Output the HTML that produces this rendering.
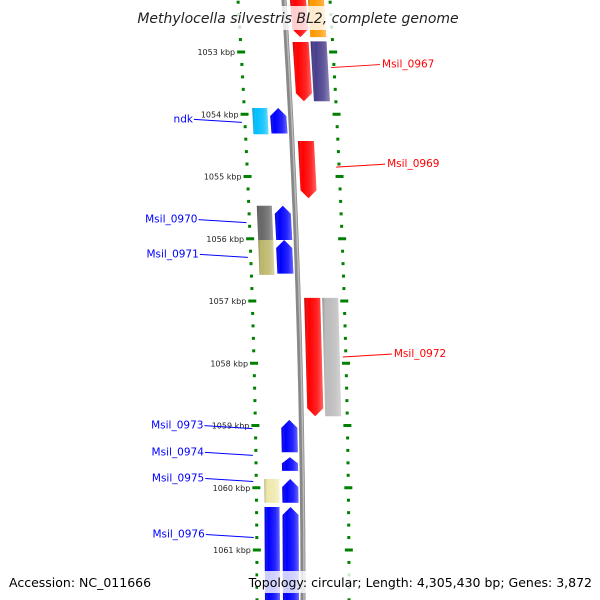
<!DOCTYPE html>
<html><head><meta charset="utf-8"><style>
body{margin:0;background:#fff}
svg{display:block;font-family:"DejaVu Sans","Liberation Sans",sans-serif}
</style></head><body>
<svg id="c" width="600" height="600" viewBox="0 0 600 600">
<defs>
<linearGradient id="sh" x1="0" x2="1" y1="0" y2="0">
<stop offset="0" stop-color="#000" stop-opacity="0.25"/>
<stop offset="0.25" stop-color="#fff" stop-opacity="0"/>
<stop offset="0.7" stop-color="#fff" stop-opacity="0.15"/>
<stop offset="1" stop-color="#fff" stop-opacity="0.4"/>
</linearGradient>
</defs>
<g id="ticks"></g>
<g id="backbone"></g>
<g id="genes"></g>
<g id="labels"></g>
<rect x="140" y="6" width="318" height="24" fill="#fff" opacity="0.8"/>
<text x="298" y="23" text-anchor="middle" font-size="14" font-style="italic" fill="#222">Methylocella silvestris BL2, complete genome</text>
<rect x="258" y="571" width="338" height="22" fill="#fff" opacity="0.8"/>
<text x="9" y="587" font-size="12.5" fill="#000">Accession: NC_011666</text>
<text x="592" y="587" text-anchor="end" font-size="12.5" fill="#000">Topology: circular; Length: 4,305,430 bp; Genes: 3,872</text>
</svg>
<script>
const majorTicks=[1053,1054,1055,1056,1057,1058,1059,1060,1061];
const tickLabels=["1053 kbp","1054 kbp","1055 kbp","1056 kbp","1057 kbp","1058 kbp","1059 kbp","1060 kbp","1061 kbp"];
const geneNames=["g-top-red","g-top-orange","g-red-0966","Msil_0967","ndk","g-blue-ndk","Msil_0969","Msil_0970","g-blue-0970","Msil_0971","g-blue-0971","g-red-0972","Msil_0972","Msil_0973","Msil_0974","Msil_0975","g-blue-0975","g-blue2-0976","Msil_0976"];
const geneStart=[1052.1,1052.1,1052.84,1052.83,1053.9,1053.9,1054.43,1055.47,1055.47,1056.02,1056.02,1056.95,1056.95,1058.91,1059.51,1059.86,1059.86,1060.31,1060.31];
const geneEnd=[1052.76,1052.76,1053.79,1053.79,1054.32,1054.31,1055.35,1056.02,1056.02,1056.58,1056.56,1058.85,1058.85,1059.43,1059.73,1060.24,1060.24,1061.9,1061.9];
const geneLane=[1,2,1,2,-2,-1,1,-2,-1,-2,-1,1,2,-1,-1,-2,-1,-2,-1];
const geneArrow=[1,0,1,0,0,-1,1,0,-1,0,-1,1,0,-1,-1,0,-1,0,-1];
const geneColor=["#ff0000","#ff9900","#ff0000","#483d8b","#00bfff","#0000ff","#ff0000","#666666","#0000ff","#bdb76b","#0000ff","#ff0000","#bbbbbb","#0000ff","#0000ff","#eee8aa","#0000ff","#0000ff","#0000ff"];
const labelGene=["Msil_0967","Msil_0969","Msil_0972","ndk","Msil_0970","Msil_0971","Msil_0973","Msil_0974","Msil_0975","Msil_0976"];
const labelKbp=[1053.25,1054.85,1057.9,1054.13,1055.74,1056.3,1059.05,1059.48,1059.9,1060.8];

const NS='http://www.w3.org/2000/svg';
function y(k){return 52+(k-1053)*62.25;}
function bx(yy){const t=(600-yy)/600;return 303-19*t*t;}
function mk(tag,attrs,parent){const e=document.createElementNS(NS,tag);for(const a in attrs)e.setAttribute(a,attrs[a]);parent.appendChild(e);return e;}
const T=document.getElementById('ticks'),B=document.getElementById('backbone'),G=document.getElementById('genes'),L=document.getElementById('labels');

// minor ticks
for(let k=1052;k<=1062.01;k+=0.2){
  const kk=Math.round(k*10)/10, yy=y(kk);
  if(yy<-5||yy>605)continue;
  const major=Math.abs(kk-Math.round(kk))<0.01;
  [-46,46].forEach(off=>{
    const x=bx(yy)+off;
    const r=mk('rect',{x:x-(major?4:1.5),y:yy-1.5,width:major?8:3,height:3,fill:'#008000'},T);
    
    
  });
}
majorTicks.forEach((k,i)=>{
  const yy=y(k);
  const t=mk('text',{x:bx(yy)-52,y:yy+3,'text-anchor':'end','font-size':'8',fill:'#222'},T);
  t.textContent=tickLabels[i];
  
  
});
// backbone
let d='';for(let yy=-5;yy<=605;yy+=10){d+=(yy<0?'M':'L')+bx(yy).toFixed(1)+','+yy;}
const bb=mk('path',{d:d,stroke:'#888',fill:'none','stroke-width':5},B);


const bb2=mk('path',{d:d,stroke:'#bbb',fill:'none','stroke-width':1.5,transform:'translate(1,0)'},B);



const laneOff={'-2':[-38,-23],'-1':[-20,-4],'1':[6,22],'2':[24,40]};
geneNames.forEach((n,i)=>{
  const y0=y(geneStart[i]),y1=y(geneEnd[i]);
  const o=laneOff[geneLane[i]];
  const a=bx(y0),b=bx(y1);
  const x0a=a+o[0],x1a=a+o[1],x0b=b+o[0],x1b=b+o[1];
  let pts;
  const h=Math.min(8,(y1-y0)*0.45);
  if(geneArrow[i]===1){
    pts=[[x0a,y0],[x1a,y0],[x1b,y1-h],[(x0b+x1b)/2,y1],[x0b,y1-h]];
  }else if(geneArrow[i]===-1){
    pts=[[(x0a+x1a)/2,y0],[x1a,y0+h],[x1b,y1],[x0b,y1],[x0a,y0+h]];
  }else{
    pts=[[x0a,y0],[x1a,y0],[x1b,y1],[x0b,y1]];
  }
  const p=pts.map(q=>q[0].toFixed(1)+','+q[1].toFixed(1)).join(' ');
  const g=mk('g',{},G);
  
  
  mk('polygon',{points:p,fill:geneColor[i]},g);
  mk('polygon',{points:p,fill:'url(#sh)'},g);
});
labelGene.forEach((n,i)=>{
  const gi=geneNames.indexOf(n);
  const right=geneLane[gi]>0;
  const yy=y(labelKbp[i]);
  const col=right?'#ff0000':'#0000ff';
  let x1,x2,tx,anchor;
  if(right){x1=bx(yy)+43;x2=x1+49;tx=x2+2;anchor='start';}
  else{x1=bx(yy)-49;x2=x1-48;tx=x2-1;anchor='end';}
  const ln=mk('line',{x1:x1,y1:yy,x2:x2,y2:yy-3,stroke:col,'stroke-width':1},L);
  
  
  const t=mk('text',{x:tx,y:yy,'text-anchor':anchor,'font-size':'10.5',fill:col},L);
  t.textContent=n;
  
  
});
</script>
</body></html>
